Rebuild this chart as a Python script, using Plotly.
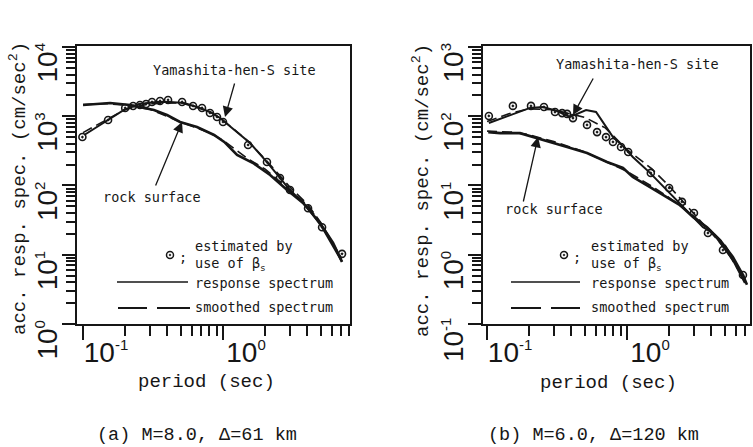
import plotly.graph_objects as go

W, H = 753, 447

# ---------------- data (period in sec, acceleration response in cm/sec^2) ----------------
# panel (a) M=8.0, Delta=61 km
a_site_T = [0.102, 0.126, 0.153, 0.196, 0.251, 0.338, 0.418, 0.526, 0.652, 0.807, 0.952, 1.07,
            1.56, 2.06, 3.01, 3.98, 5.1, 7.08]
a_site_A = [536, 700, 883, 1231, 1503, 1607, 1607, 1553, 1361, 1152, 944, 773,
            411, 218, 86, 49, 25, 7.9]
a_rock_T = [0.100, 0.156, 0.217, 0.255, 0.321, 0.398, 0.493, 0.652, 0.863, 1.02, 1.26, 1.64,
            2.17, 2.87, 3.73, 4.93, 6.11, 7.08]
a_rock_A = [1450, 1553, 1450, 1361, 1231, 1042, 826, 700, 536, 425, 276, 211,
            142, 86, 56, 28.7, 14.8, 7.9]
a_est_T = [0.099, 0.151, 0.200, 0.228, 0.255, 0.282, 0.311, 0.355, 0.405, 0.510, 0.611, 0.708,
           0.807, 0.906, 1.00, 1.51, 2.06, 2.55, 3.01, 4.05, 5.1, 7.08]
a_est_A = [501, 883, 1316, 1406, 1455, 1503, 1607, 1660, 1718, 1607, 1406, 1316,
           1114, 975, 826, 385, 218, 128, 86, 47, 25, 10.3]
a_site_sm_T = [0.10, 0.15, 0.20, 0.30, 0.50, 0.80, 1.0, 1.5, 2.0, 3.0, 4.0, 5.0, 7.0]
a_site_sm_A = [580, 900, 1250, 1520, 1560, 1180, 880, 440, 240, 95, 54, 29, 9.0]
a_rock_sm_T = [0.10, 0.15, 0.20, 0.30, 0.50, 0.80, 1.0, 1.5, 2.0, 3.0, 4.0, 5.0, 7.0]
a_rock_sm_A = [1480, 1520, 1440, 1260, 820, 580, 450, 245, 172, 84, 52, 28, 8.6]

# panel (b) M=6.0, Delta=120 km
b_site_T = [0.103, 0.161, 0.203, 0.251, 0.316, 0.392, 0.510, 0.601, 0.708, 0.794, 0.936, 1.10,
            1.46, 1.93, 2.39, 2.96, 3.49, 4.11, 4.85, 5.71, 6.96]
b_site_A = [80, 111, 132, 136, 119, 97.5, 123, 115, 70, 50, 37, 25.8,
            15.2, 8.6, 5.6, 3.5, 2.5, 2.06, 1.29, 0.84, 0.39]
b_rock_T = [0.102, 0.124, 0.172, 0.228, 0.282, 0.373, 0.518, 0.720, 0.936, 1.10, 1.46, 1.93,
            2.39, 2.96, 3.73, 4.62, 5.71, 6.74, 7.2]
b_rock_A = [59, 57, 57, 48.5, 42.5, 36, 29.5, 21.8, 17.9, 13.3, 9.5, 6.8,
            5.2, 3.5, 2.5, 1.63, 0.93, 0.51, 0.37]
b_est_T = [0.103, 0.153, 0.206, 0.255, 0.306, 0.344, 0.373, 0.411, 0.518, 0.611, 0.708, 0.794,
           0.906, 1.02, 1.48, 2.0, 2.47, 3.01, 3.79, 4.85, 6.74]
b_est_A = [101, 141, 141, 136, 115, 111, 108, 94, 75, 59, 50, 42.5,
           36, 30.5, 15.2, 9.2, 5.8, 4.0, 2.06, 1.17, 0.51]
b_site_sm_T = [0.10, 0.15, 0.20, 0.30, 0.50, 0.70, 1.0, 1.5, 2.0, 3.0, 4.0, 5.0, 7.0]
b_site_sm_A = [84, 112, 128, 124, 96, 68, 33, 17.5, 9.8, 3.9, 2.1, 1.25, 0.42]
b_rock_sm_T = [0.10, 0.15, 0.20, 0.30, 0.50, 0.70, 1.0, 1.5, 2.0, 3.0, 4.0, 5.0, 7.0]
b_rock_sm_A = [61, 59, 54, 43, 30.5, 22.5, 16, 9.8, 6.7, 3.6, 2.2, 1.4, 0.45]

x_tick_vals = [0.1, 1]
x_exps = ['-1', '0']
a_y_tick_vals = [1, 10, 100, 1000, 10000]
b_y_tick_vals = [0.1, 1, 10, 100, 1000]
a_y_exps = ['0', '1', '2', '3', '4']
b_y_exps = ['-1', '0', '1', '2', '3']


def pow_text(exps):
    return ['10<sup><span style="font-size:15px">%s</span></sup>' % e for e in exps]


def minor_vals(lo, hi):
    out = []
    for d in range(lo, hi):
        for m in range(2, 10):
            out.append(m * 10.0 ** d)
    return out


INK = '#161616'

fig = go.Figure()


def add_panel(xa, ya, site_T, site_A, rock_T, rock_A, est_T, est_A, ssT, ssA, rsT, rsA):
    fig.add_trace(go.Scatter(x=site_T, y=site_A, mode='lines', line=dict(color=INK, width=2),
                             xaxis=xa, yaxis=ya))
    fig.add_trace(go.Scatter(x=rock_T, y=rock_A, mode='lines', line=dict(color=INK, width=2.6),
                             xaxis=xa, yaxis=ya))
    dl = dict(color=INK, width=1.6, dash='10px,5px')
    fig.add_trace(go.Scatter(x=ssT, y=ssA, mode='lines', line=dl, xaxis=xa, yaxis=ya))
    fig.add_trace(go.Scatter(x=rsT, y=rsA, mode='lines', line=dl, xaxis=xa, yaxis=ya))
    fig.add_trace(go.Scatter(x=est_T, y=est_A, mode='markers',
                             marker=dict(symbol='circle-open-dot', size=7, color=INK,
                                         line=dict(width=1.6, color=INK)),
                             xaxis=xa, yaxis=ya))


add_panel('x', 'y', a_site_T, a_site_A, a_rock_T, a_rock_A, a_est_T, a_est_A,
          a_site_sm_T, a_site_sm_A, a_rock_sm_T, a_rock_sm_A)
add_panel('x2', 'y2', b_site_T, b_site_A, b_rock_T, b_rock_A, b_est_T, b_est_A,
          b_site_sm_T, b_site_sm_A, b_rock_sm_T, b_rock_sm_A)


def px(x):
    return x / W


def py(y):
    return (H - y) / H


tickfont = dict(family='Liberation Sans', size=28, color=INK)
common = dict(type='log', showgrid=False, zeroline=False, showline=True, mirror=True,
              automargin=False,
              linecolor=INK, linewidth=2, ticks='outside', tickcolor=INK, tickwidth=1.5,
              tickfont=tickfont)
xminor = dict(ticks='outside', ticklen=10, tickwidth=1.5, tickcolor=INK)
yminor = dict(ticks='outside', ticklen=9, tickwidth=1.5, tickcolor=INK)

fig.update_layout(
    width=W, height=H, margin=dict(l=0, r=0, t=0, b=0, autoexpand=False),
    paper_bgcolor='white', plot_bgcolor='white', showlegend=False,
    xaxis=dict(common, domain=[px(77), px(350)], range=[-1.043, 0.907], anchor='y',
               tickvals=x_tick_vals, ticktext=pow_text(x_exps), ticklen=14, ticklabelshift=23,
               ticklabelstandoff=-12,
               minor=dict(xminor, tickvals=minor_vals(-2, 1))),
    yaxis=dict(common, domain=[py(324), py(46)], range=[0, 4.014], anchor='x',
               tickvals=a_y_tick_vals, ticktext=pow_text(a_y_exps), ticklen=13, tickangle=-90,
               ticklabelshift=20, ticklabelstandoff=-6,
               minor=dict(yminor, tickvals=minor_vals(0, 4))),
    xaxis2=dict(common, domain=[px(483), px(750)], range=[-1.029, 0.879], anchor='y2',
                tickvals=x_tick_vals, ticktext=pow_text(x_exps), ticklen=14, ticklabelshift=23,
                ticklabelstandoff=-12,
                minor=dict(xminor, tickvals=minor_vals(-2, 1))),
    yaxis2=dict(common, domain=[py(324), py(46)], range=[-1, 3.014], anchor='x2',
                tickvals=b_y_tick_vals, ticktext=pow_text(b_y_exps), ticklen=13, tickangle=-90,
                ticklabelshift=20, ticklabelstandoff=-6,
                minor=dict(yminor, tickvals=minor_vals(-1, 3))),
)

ann = []
shapes = []
lab = dict(family='DejaVu Sans Mono', size=13.5, color=INK)
ttl = dict(family='Liberation Mono', size=19, color=INK)


def text(x, y, s, font, xanchor='center', angle=0):
    ann.append(dict(x=px(x), y=py(y), xref='paper', yref='paper', text=s, showarrow=False,
                    font=font, xanchor=xanchor, yanchor='middle', textangle=angle))


def arrow(hx, hy, tx, ty):
    ann.append(dict(x=px(hx), y=py(hy), xref='paper', yref='paper', text='', showarrow=True,
                    ax=tx - hx, ay=ty - hy, arrowhead=2, arrowsize=1.6, arrowwidth=1.3,
                    arrowcolor=INK))


def legend(circ_x, text_x, line_x0, line_x1, dash_segs):
    shapes.append(dict(type='circle', xref='paper', yref='paper',
                       x0=px(circ_x - 3.5), x1=px(circ_x + 3.5), y0=py(258.5), y1=py(251.5),
                       line=dict(color=INK, width=1.5)))
    shapes.append(dict(type='circle', xref='paper', yref='paper',
                       x0=px(circ_x - 0.9), x1=px(circ_x + 0.9), y0=py(255.9), y1=py(254.1),
                       fillcolor=INK, line=dict(color=INK, width=0.5)))
    text(circ_x + 7, 257, ';', lab, 'left')
    text(text_x, 246, 'estimated by', lab, 'left')
    text(text_x, 264, 'use of β<sub>s</sub>', lab, 'left')
    text(text_x, 283, 'response spectrum', lab, 'left')
    text(text_x, 307, 'smoothed spectrum', lab, 'left')
    shapes.append(dict(type='line', xref='paper', yref='paper', x0=px(line_x0), x1=px(line_x1),
                       y0=py(282), y1=py(282), line=dict(color=INK, width=1.6)))
    for s0, s1 in dash_segs:
        shapes.append(dict(type='line', xref='paper', yref='paper', x0=px(s0), x1=px(s1),
                           y0=py(308), y1=py(308), line=dict(color=INK, width=2)))


# panel (a) texts
text(234, 70, 'Yamashita-hen-S site', lab)
arrow(225, 117, 235, 82)
text(152, 197, 'rock surface', lab)
arrow(182, 122, 155, 187)
legend(170, 193, 117, 188, [(118, 147), (157, 190)])
text(19, 189, 'acc. resp. spec. (cm/sec<sup>2</sup>)', ttl, angle=-90)
text(207, 382, 'period (sec)', ttl)
text(197, 435, '(a) M=8.0, Δ=61 km', dict(family='Liberation Mono', size=18.5, color=INK))

# panel (b) texts
text(637, 64, 'Yamashita-hen-S site', lab)
arrow(573, 115, 594, 77)
text(554, 209, 'rock surface', lab)
arrow(538, 137, 523, 203)
legend(564, 589, 511, 580, [(511, 541), (551, 580)])
text(421, 190, 'acc. resp. spec. (cm/sec<sup>2</sup>)', ttl, angle=-90)
text(608, 383, 'period (sec)', ttl)
text(593, 435, '(b) M=6.0, Δ=120 km', dict(family='Liberation Mono', size=18.5, color=INK))

fig.update_layout(annotations=ann, shapes=shapes)
fig.write_html('out.html', config={'displayModeBar': False},
               post_script="document.documentElement.style.margin='0px';"
                           "document.body.style.margin='0px';"
                           "document.body.style.overflow='hidden';")
